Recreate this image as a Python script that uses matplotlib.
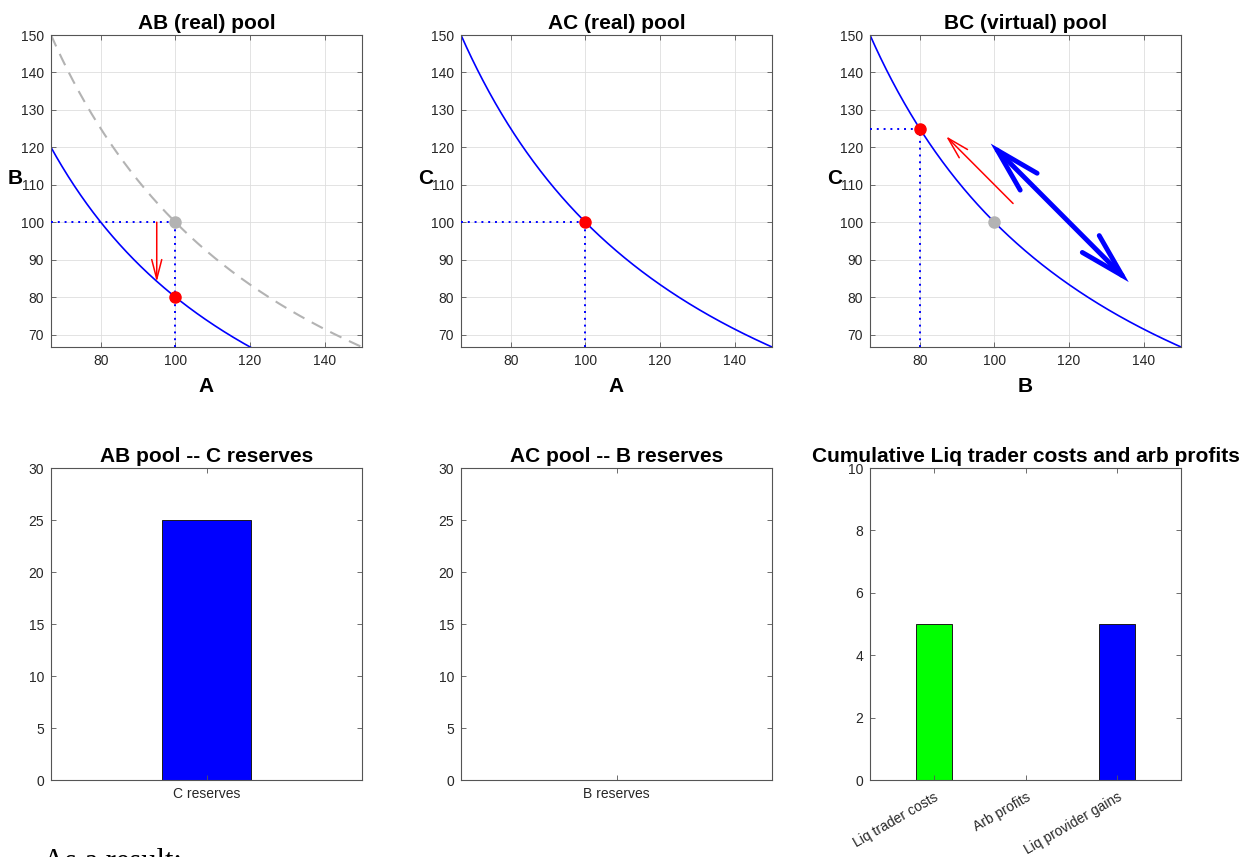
import numpy as np
import matplotlib
matplotlib.use("Agg")
import matplotlib.pyplot as plt

plt.rcParams["font.family"] = ["Liberation Sans", "DejaVu Sans"]

# ---------------------------------------------------------------------------
# Pool reserves
# ---------------------------------------------------------------------------
AB_BEFORE = (100, 100)   # (A, B) grey point, old curve
AB_AFTER = (100, 80)     # (A, B) red point
AC_NOW = (100, 100)      # (A, C)
BC_BEFORE = (100, 100)   # (B, C) grey point
BC_AFTER = (80, 125)     # (B, C) red point

AXIS_LIM = (100 / 1.5, 150)
X_TICKS = [80, 100, 120, 140]
Y_TICKS = [70, 80, 90, 100, 110, 120, 130, 140, 150]

# arrows: (tail, head)
AB_ARROW = ((95, 100), (95, 84))
BC_ARROW = ((105, 105), (87, 123))
BC_SWING = ((99, 121), (136, 84))

# bar panels
C_RES_LABELS = ["C reserves"]
C_RES_VALUES = [25]
B_RES_LABELS = ["B reserves"]
B_RES_VALUES = [0]
CUM_LABELS = ["Liq trader costs", "Arb profits", "Liq provider gains"]
CUM_VALUES = [5, 0, 5]
CUM_COLORS = ["#00ff00", "#ff0000", "#0000ff"]

W, H = 1251, 857
TEXT_C = "#262626"
GRID_C = "#dedede"
DOTS = (0, (1, 2.5))


def px_axes(left, top, right, bottom):
    return fig.add_axes([left / W, 1 - bottom / H, (right - left) / W, (bottom - top) / H])


def style(ax):
    for s in ax.spines.values():
        s.set_color("#555555")
        s.set_linewidth(0.8)
    ax.tick_params(direction="in", length=3.5, width=0.6, colors="#555555",
                   labelcolor=TEXT_C, labelsize=10, pad=5,
                   top=True, right=True)


def curve(k):
    x = np.linspace(AXIS_LIM[0], AXIS_LIM[1], 400)
    return x, k / x


def pool_axes(ax, title, xl, yl):
    style(ax)
    ax.set_xlim(AXIS_LIM)
    ax.set_ylim(AXIS_LIM)
    ax.set_xticks(X_TICKS)
    ax.set_yticks(Y_TICKS)
    ax.grid(True, color=GRID_C, linewidth=0.6)
    ax.set_axisbelow(True)
    ax.set_title(title, fontsize=15, fontweight="bold", pad=4)
    ax.set_xlabel(xl, fontsize=15, fontweight="bold", va="center")
    ax.xaxis.set_label_coords(0.5, -0.125)
    ax.set_ylabel(yl, fontsize=15, fontweight="bold", rotation=0, ha="center", va="center")
    ax.yaxis.set_label_coords(-0.114, 0.54)


def dotted_guides(ax, pt):
    ax.plot([AXIS_LIM[0], pt[0]], [pt[1], pt[1]], color="blue", lw=1.4,
            linestyle=DOTS, zorder=3)
    ax.plot([pt[0], pt[0]], [AXIS_LIM[0], pt[1]], color="blue", lw=1.4,
            linestyle=DOTS, zorder=3)


def arrow(ax, tail, head, color, lw, hl, hw, style_="->"):
    ax.annotate("", xy=head, xytext=tail,
                arrowprops=dict(arrowstyle=f"{style_},head_length={hl},head_width={hw}",
                                color=color, lw=lw, shrinkA=0, shrinkB=0,
                                mutation_scale=10, capstyle="round", joinstyle="miter"),
                zorder=5)


fig = plt.figure(figsize=(W / 100, H / 100), dpi=100)

# ---------------------------------------------------------------------------
# Top row: pool curves
# ---------------------------------------------------------------------------
ax1 = px_axes(51, 35, 362, 347)
pool_axes(ax1, "AB (real) pool", "A", "B")
x, y = curve(AB_BEFORE[0] * AB_BEFORE[1])
ax1.plot(x, y, color="#b3b3b3", lw=1.5, dashes=(6, 4))
x, y = curve(AB_AFTER[0] * AB_AFTER[1])
ax1.plot(x, y, color="blue", lw=1.2)
ax1.plot([AXIS_LIM[0], AB_BEFORE[0]], [AB_BEFORE[1], AB_BEFORE[1]], color="blue",
         lw=1.4, linestyle=DOTS, zorder=3)
ax1.plot([AB_AFTER[0], AB_AFTER[0]], [AXIS_LIM[0], AB_BEFORE[1]], color="blue",
         lw=1.4, linestyle=DOTS, zorder=3)
ax1.plot(*AB_BEFORE, "o", color="#b3b3b3", ms=8, zorder=4)
ax1.plot(*AB_AFTER, "o", color="red", ms=8, zorder=4)
arrow(ax1, AB_ARROW[0], AB_ARROW[1], "red", 1.1, 1.4, 0.36)

ax2 = px_axes(461, 35, 772, 347)
pool_axes(ax2, "AC (real) pool", "A", "C")
x, y = curve(AC_NOW[0] * AC_NOW[1])
ax2.plot(x, y, color="blue", lw=1.2)
dotted_guides(ax2, AC_NOW)
ax2.plot(*AC_NOW, "o", color="red", ms=8, zorder=4)

ax3 = px_axes(870, 35, 1181, 347)
pool_axes(ax3, "BC (virtual) pool", "B", "C")
x, y = curve(BC_AFTER[0] * BC_AFTER[1])
ax3.plot(x, y, color="blue", lw=1.2)
dotted_guides(ax3, BC_AFTER)
ax3.plot(*BC_BEFORE, "o", color="#b3b3b3", ms=8, zorder=4)
ax3.plot(*BC_AFTER, "o", color="red", ms=8, zorder=4)
arrow(ax3, BC_ARROW[0], BC_ARROW[1], "red", 1.1, 1.57, 0.42)
arrow(ax3, BC_SWING[0], BC_SWING[1], "blue", 3.5, 3.2, 0.86, style_="<->")

# ---------------------------------------------------------------------------
# Bottom row: bar charts
# ---------------------------------------------------------------------------
def bar_axes(ax, title, labels, values, colors, ymax, ystep, rot=0):
    style(ax)
    pos = np.arange(1, len(labels) + 1)
    ax.bar(pos, values, width=0.4, color=colors, edgecolor="#1a1a1a", linewidth=0.7)
    ax.set_xlim(0.3, len(labels) + 0.7)
    ax.set_ylim(0, ymax)
    ax.set_yticks(np.arange(0, ymax + ystep / 2, ystep))
    ax.set_xticks(pos)
    if rot:
        ax.set_xticklabels(labels, rotation=rot, ha="right", va="top",
                           rotation_mode="anchor", fontsize=10)
        ax.tick_params(axis="x", pad=7)
    else:
        ax.set_xticklabels(labels, fontsize=10)
    ax.set_title(title, fontsize=15, fontweight="bold", pad=4)


ax4 = px_axes(51, 468, 362, 780)
bar_axes(ax4, "AB pool -- C reserves", C_RES_LABELS, C_RES_VALUES, ["blue"], 30, 5)

ax5 = px_axes(461, 468, 772, 780)
bar_axes(ax5, "AC pool -- B reserves", B_RES_LABELS, B_RES_VALUES, ["blue"], 30, 5)

ax6 = px_axes(870, 468, 1181, 780)
bar_axes(ax6, "Cumulative Liq trader costs and arb profits", CUM_LABELS, CUM_VALUES,
         CUM_COLORS, 10, 2, rot=30)

fig.text(43 / W, (H - 848) / H, "As a result:", family=["Liberation Serif"],
         fontsize=22, va="top", ha="left", color="black")

fig.savefig("out.png", dpi=100)
